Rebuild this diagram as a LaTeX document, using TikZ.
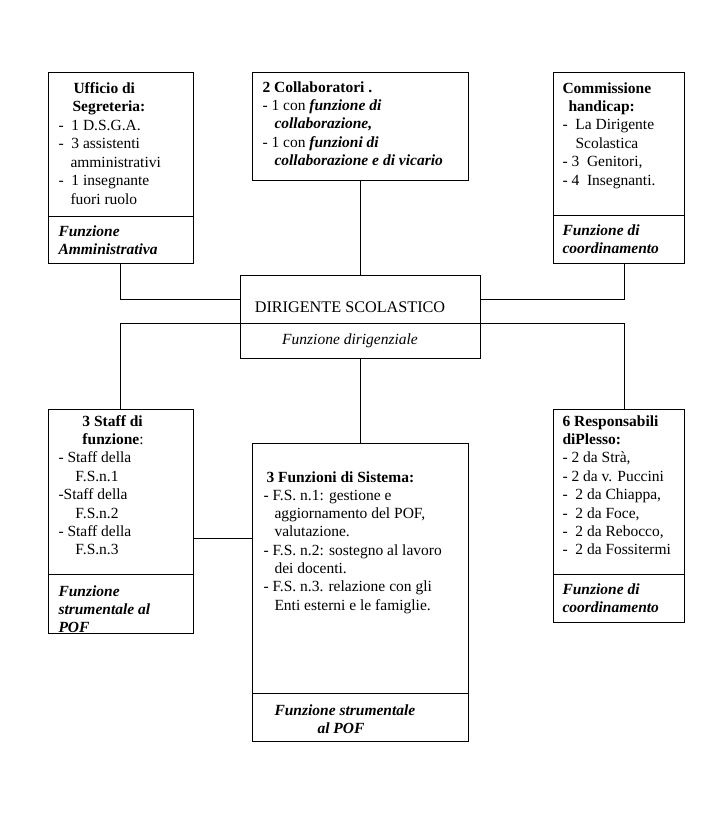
\documentclass[tikz,border=0pt]{standalone}
\usepackage{fontspec}
\setmainfont{Liberation Serif}
\begin{document}
\begin{tikzpicture}[x=1pt,y=-1pt,line width=1pt,
  box/.style={draw,inner sep=0pt,outer sep=0pt,anchor=north west},
  txt/.style={inner sep=0pt,anchor=base west,
    execute at begin node={\begin{minipage}[t]{220pt}\fontsize{15.5}{#1}\selectfont\raggedright},
    execute at end node={\end{minipage}}},
  ctr/.style={inner sep=0pt,anchor=base,font=\fontsize{15.5}{18}\selectfont}]
\fill[white] (0,0) rectangle (720,828);
\useasboundingbox (0,0) rectangle (720,828);
% boxes
\node[box,minimum width=145pt,minimum height=191pt] (uff) at (48,72) {};
\node[box,minimum width=216pt,minimum height=108pt] (col) at (252,72) {};
\node[box,minimum width=131pt,minimum height=191pt] (com) at (553,72) {};
\node[box,minimum width=240pt,minimum height=83pt] (dir) at (240,275) {};
\node[box,minimum width=145pt,minimum height=224pt] (staff) at (48,409) {};
\node[box,minimum width=216pt,minimum height=298pt] (fs) at (252,443) {};
\node[box,minimum width=131pt,minimum height=213pt] (resp) at (553,409) {};
% dividers
\draw (48,216) -- (193,216);
\draw (553,215) -- (684,215);
\draw (240,323) -- (480,323);
\draw (48,574) -- (193,574);
\draw (252,693) -- (468,693);
\draw (553,574) -- (684,574);
% connector helpers
\coordinate (hT) at (0,299);
\coordinate (hB) at (0,323);
\coordinate (hS) at (0,538);
\coordinate (rx) at (624,0);
% connectors
\draw (uff.south) |- (dir.west |- hT);
\draw (com.south -| rx) |- (dir.east |- hT);
\draw (col.south) -- (dir.north);
\draw (staff.north) |- (dir.west |- hB);
\draw (resp.north -| rx) |- (dir.east |- hB);
\draw (dir.south) -- (fs.north);
\draw (staff.east |- hS) -- (fs.west |- hS);
% texts
\node[txt=18.5] (uffT) at (58,93) {\hspace*{15pt}\textbf{Ufficio di}\\
\hspace*{14pt}\textbf{Segreteria:}\\
- \ 1 D.S.G.A.\\
- \ 3 assistenti\\
\hspace*{12pt}amministrativi\\
- \ 1 insegnante\\
\hspace*{12pt}fuori ruolo};
\node[txt=18.8] (uffB) at (58,236) {\textbf{\textit{Funzione}}\\
\textbf{\textit{Amministrativa}}};
\node[txt=18.4] (colT) at (262,92) {\textbf{2 Collaboratori .}\\
- 1 con \textbf{\textit{funzione di}}\\
\hspace*{12pt}\textbf{\textit{collaborazione,}}\\
- 1 con \textbf{\textit{funzioni di}}\\
\hspace*{12pt}\textbf{\textit{collaborazione e di vicario}}};
\node[txt=18.4] (comT) at (562,93) {\textbf{Commissione}\\
\hspace*{6pt}\textbf{handicap:}\\
- \ La Dirigente\\
\hspace*{13pt}Scolastica\\
- 3 \ Genitori,\\
- 4 \ Insegnanti.};
\node[txt=18.8] (comB) at (562,235) {\textbf{\textit{Funzione di}}\\
\textbf{\textit{coordinamento}}};
\node[ctr,font=\fontsize{16.2}{18}\selectfont] (dirT) at (350,312) {DIRIGENTE SCOLASTICO};
\node[ctr] (dirB) at (350,344) {\textit{Funzione dirigenziale}};
\node[txt=18.4] (staffT) at (58,426) {\hspace*{24pt}\textbf{3 Staff di}\\
\hspace*{24pt}\textbf{funzione}:\\
- Staff della\\
\hspace*{17pt}F.S.n.1\\
-Staff della\\
\hspace*{17pt}F.S.n.2\\
- Staff della\\
\hspace*{17pt}F.S.n.3};
\begin{scope}
\clip (48,574) rectangle (193,632.5);
\node[txt=18.4] (staffB) at (58,596) {\textbf{\textit{Funzione}}\\
\textbf{\textit{strumentale al}}\\
\textbf{\textit{POF}}};
\end{scope}
\node[txt=18.3] (fsT) at (263,482) {\hspace*{3pt}\textbf{3 Funzioni di Sistema:}\\
- F.S. n.1: gestione e\\
\hspace*{11pt}aggiornamento del POF,\\
\hspace*{11pt}valutazione.\\
- F.S. n.2: sostegno al lavoro\\
\hspace*{11pt}dei docenti.\\
- F.S. n.3. relazione con gli\\
\hspace*{11pt}Enti esterni e le famiglie.};
\node[txt=18.4] (fsB) at (274,715) {\textbf{\textit{Funzione strumentale}}\\
\hspace*{43pt}\textbf{\textit{al POF}}};
\node[txt=18.4] (respT) at (562,426) {\textbf{6 Responsabili}\\
\textbf{diPlesso:}\\
- 2 da Strà,\\
- 2 da v. Puccini\\
- \ 2 da Chiappa,\\
- \ 2 da Foce,\\
- \ 2 da Rebocco,\\
- \ 2 da Fossitermi};
\node[txt=18.4] (respB) at (562,594) {\textbf{\textit{Funzione di}}\\
\textbf{\textit{coordinamento}}};
\end{tikzpicture}
\end{document}
